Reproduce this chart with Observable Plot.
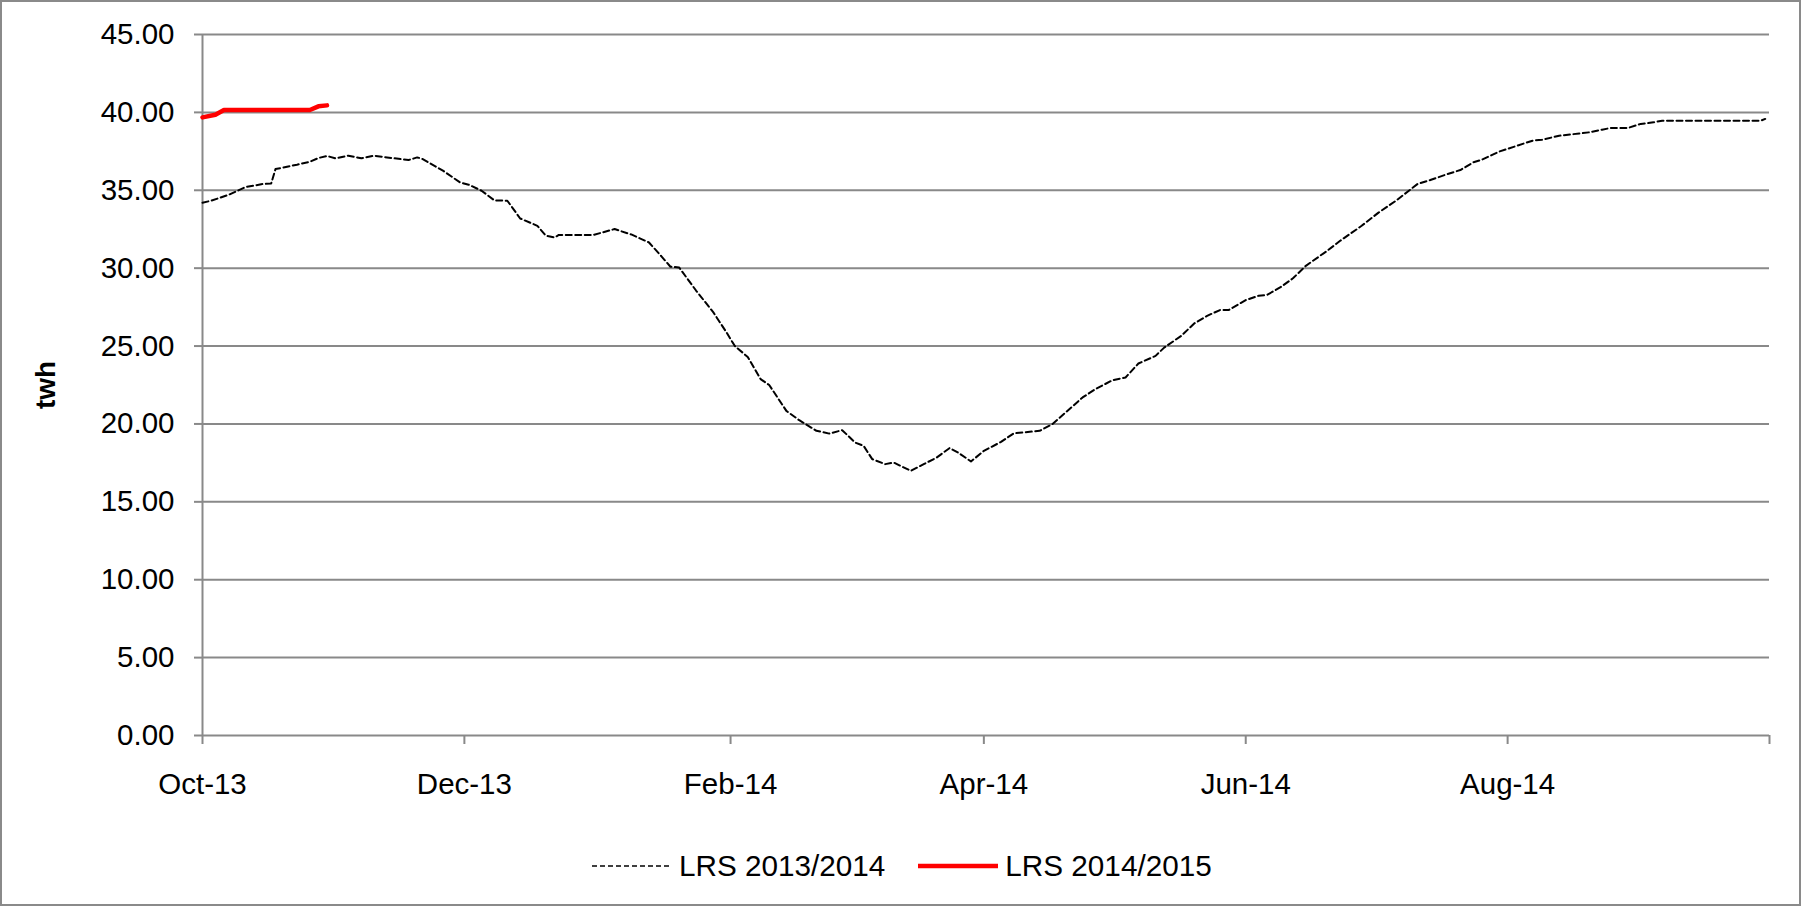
<!DOCTYPE html>
<html>
<head>
<meta charset="utf-8">
<script src="https://cdn.jsdelivr.net/npm/d3@7"></script>
<script src="https://cdn.jsdelivr.net/npm/@observablehq/plot@0.6"></script>
<style>
  html, body { margin: 0; padding: 0; background: #fff; }
  body { width: 1802px; height: 907px; position: relative; overflow: hidden; font-family: "Liberation Sans", Arial, sans-serif; }
  #frame { position: absolute; left: 0; top: 0; width: 1801px; height: 906px; border: 2px solid #8a8a8a; box-sizing: border-box; }
  #chart { position: absolute; left: 0; top: 0; }
  #ylabel { position: absolute; left: 46px; top: 385px; transform: translate(-50%, -50%) rotate(-90deg); font-weight: bold; font-size: 28px; color: #000; white-space: nowrap; }
  #legend { position: absolute; left: 592px; top: 849px; display: flex; align-items: center; font-size: 29.7px; color: #000; white-space: nowrap; }
  .item { display: flex; align-items: center; }
  .item svg { display: block; }
</style>
</head>
<body>
<div id="frame"></div>
<div id="chart"></div>
<div id="ylabel"></div>
<div id="legend"></div>
<script>
// ---- Data ----
const seriesNames = ["LRS 2013/2014", "LRS 2014/2015"];
const yAxisTitle = "twh";

const lrs1314Dates = [
  "2013-10-01","2013-10-03","2013-10-07","2013-10-11","2013-10-15","2013-10-17","2013-10-18","2013-10-23",
  "2013-10-26","2013-10-28","2013-10-30","2013-11-01","2013-11-04","2013-11-07","2013-11-10","2013-11-13",
  "2013-11-18","2013-11-20","2013-11-21","2013-11-26","2013-11-30","2013-12-02","2013-12-05","2013-12-08",
  "2013-12-11","2013-12-14","2013-12-18","2013-12-20","2013-12-22","2013-12-23","2013-12-31","2014-01-05",
  "2014-01-09","2014-01-13","2014-01-16","2014-01-18","2014-01-20","2014-01-24","2014-01-28","2014-01-31",
  "2014-02-02","2014-02-05","2014-02-08","2014-02-10","2014-02-14","2014-02-17","2014-02-21","2014-02-24",
  "2014-02-27","2014-03-02","2014-03-04","2014-03-06","2014-03-09","2014-03-11","2014-03-15","2014-03-18",
  "2014-03-21","2014-03-24","2014-03-26","2014-03-29","2014-04-01","2014-04-05","2014-04-08","2014-04-14",
  "2014-04-17","2014-04-20","2014-04-24","2014-04-27","2014-05-01","2014-05-04","2014-05-07","2014-05-11",
  "2014-05-13","2014-05-17","2014-05-20","2014-05-23","2014-05-26","2014-05-28","2014-06-01","2014-06-04",
  "2014-06-06","2014-06-09","2014-06-12","2014-06-15","2014-06-20","2014-06-23","2014-06-28","2014-07-02",
  "2014-07-06","2014-07-09","2014-07-11","2014-07-14","2014-07-18","2014-07-21","2014-07-24","2014-07-26",
  "2014-07-30","2014-08-03","2014-08-07","2014-08-09","2014-08-13","2014-08-20","2014-08-23","2014-08-25",
  "2014-08-29","2014-09-01","2014-09-04","2014-09-06","2014-09-29","2014-09-30"
];
const lrs1314Values = [
  34.2, 34.33, 34.7, 35.2, 35.4, 35.44, 36.36, 36.64,
  36.83, 37.07, 37.2, 37.05, 37.22, 37.05, 37.22, 37.11,
  36.94, 37.11, 37.04, 36.26, 35.5, 35.36, 34.97, 34.35,
  34.33, 33.19, 32.72, 32.08, 31.97, 32.13, 32.13, 32.51,
  32.15, 31.65, 30.73, 30.09, 30.05, 28.55, 27.16, 25.9,
  25.0, 24.3, 22.88, 22.5, 20.84, 20.24, 19.56, 19.38,
  19.6, 18.81, 18.59, 17.74, 17.42, 17.52, 16.99, 17.42,
  17.84, 18.45, 18.16, 17.59, 18.27, 18.85, 19.4, 19.56,
  19.99, 20.73, 21.7, 22.24, 22.81, 22.98, 23.88, 24.37,
  24.9, 25.66, 26.45, 26.94, 27.31, 27.31, 27.95, 28.23,
  28.29, 28.76, 29.35, 30.15, 31.12, 31.76, 32.72, 33.58,
  34.33, 34.97, 35.4, 35.66, 36.04, 36.3, 36.79, 36.96,
  37.48, 37.84, 38.2, 38.24, 38.5, 38.72, 38.89, 39.0,
  39.0, 39.26, 39.36, 39.47, 39.47, 39.58
];

const lrs1415Dates = ["2014-10-01","2014-10-04","2014-10-06","2014-10-26","2014-10-28","2014-10-30"];
const lrs1415Values = [39.68, 39.85, 40.15, 40.15, 40.39, 40.45];

const yTicks = [0, 5, 10, 15, 20, 25, 30, 35, 40, 45];
const xTickDates = ["2013-10-01","2013-12-01","2014-02-01","2014-04-01","2014-06-01","2014-08-01","2014-10-01"];
const xTickLabels = ["Oct-13","Dec-13","Feb-14","Apr-14","Jun-14","Aug-14",""];

// ---- Build ----
const parse = d3.utcParse("%Y-%m-%d");
const s1 = lrs1314Dates.map((d, i) => ({date: parse(d), value: lrs1314Values[i]}));
// the 2014/2015 season is drawn on the same Oct–Sep season axis
const s2 = lrs1415Dates.map((d, i) => ({date: d3.utcYear.offset(parse(d), -1), value: lrs1415Values[i]}));
const xTicks = xTickDates.map(parse);
const labelByTime = new Map(xTicks.map((d, i) => [+d, xTickLabels[i]]));

const gray = "#898989";
const chart = Plot.plot({
  width: 1802,
  height: 820,
  marginLeft: 202,
  marginRight: 33,
  marginTop: 34,
  marginBottom: 85,
  style: {fontFamily: "'Liberation Sans', Arial, sans-serif", fontSize: "29.5px", color: "#000", background: "transparent", overflow: "visible"},
  x: {type: "utc", domain: [xTicks[0], xTicks[xTicks.length - 1]]},
  y: {domain: [0, 45]},
  marks: [
    Plot.gridY(yTicks, {stroke: gray, strokeOpacity: 1, strokeWidth: 2}),
    Plot.ruleX([xTicks[0]], {stroke: gray, strokeWidth: 2}),
    Plot.axisY({ticks: yTicks, tickFormat: d3.format(".2f"), tickSize: 8, tickPadding: 20, stroke: gray, strokeWidth: 2, fill: "#000", label: null}),
    Plot.axisX({ticks: xTicks, tickFormat: d => labelByTime.get(+d) ?? "", tickSize: 9, tickPadding: 29, stroke: gray, strokeWidth: 2, fill: "#000", label: null}),
    Plot.line(s1, {x: "date", y: "value", stroke: "#000", strokeWidth: 2, strokeDasharray: "6,3.5"}),
    Plot.line(s2, {x: "date", y: "value", stroke: "#ff0000", strokeWidth: 4.5, strokeLinecap: "round", strokeLinejoin: "round"})
  ]
});
document.getElementById("chart").appendChild(chart);
document.getElementById("ylabel").textContent = yAxisTitle;

// ---- Legend ----
const legend = document.getElementById("legend");
const swatches = [
  {stroke: "#000", width: 1.6, dash: "5,3"},
  {stroke: "#ff0000", width: 4.5, dash: null}
];
seriesNames.forEach((name, i) => {
  const item = document.createElement("div");
  item.className = "item";
  item.style.marginRight = i === 0 ? "33px" : "0";
  const sw = swatches[i];
  item.innerHTML = `<svg width="80" height="12"><line x1="0" x2="80" y1="6" y2="6" stroke="${sw.stroke}" stroke-width="${sw.width}" ${sw.dash ? `stroke-dasharray="${sw.dash}"` : ""}/></svg><span style="margin-left:7px">${name}</span>`;
  legend.appendChild(item);
});
</script>
</body>
</html>
